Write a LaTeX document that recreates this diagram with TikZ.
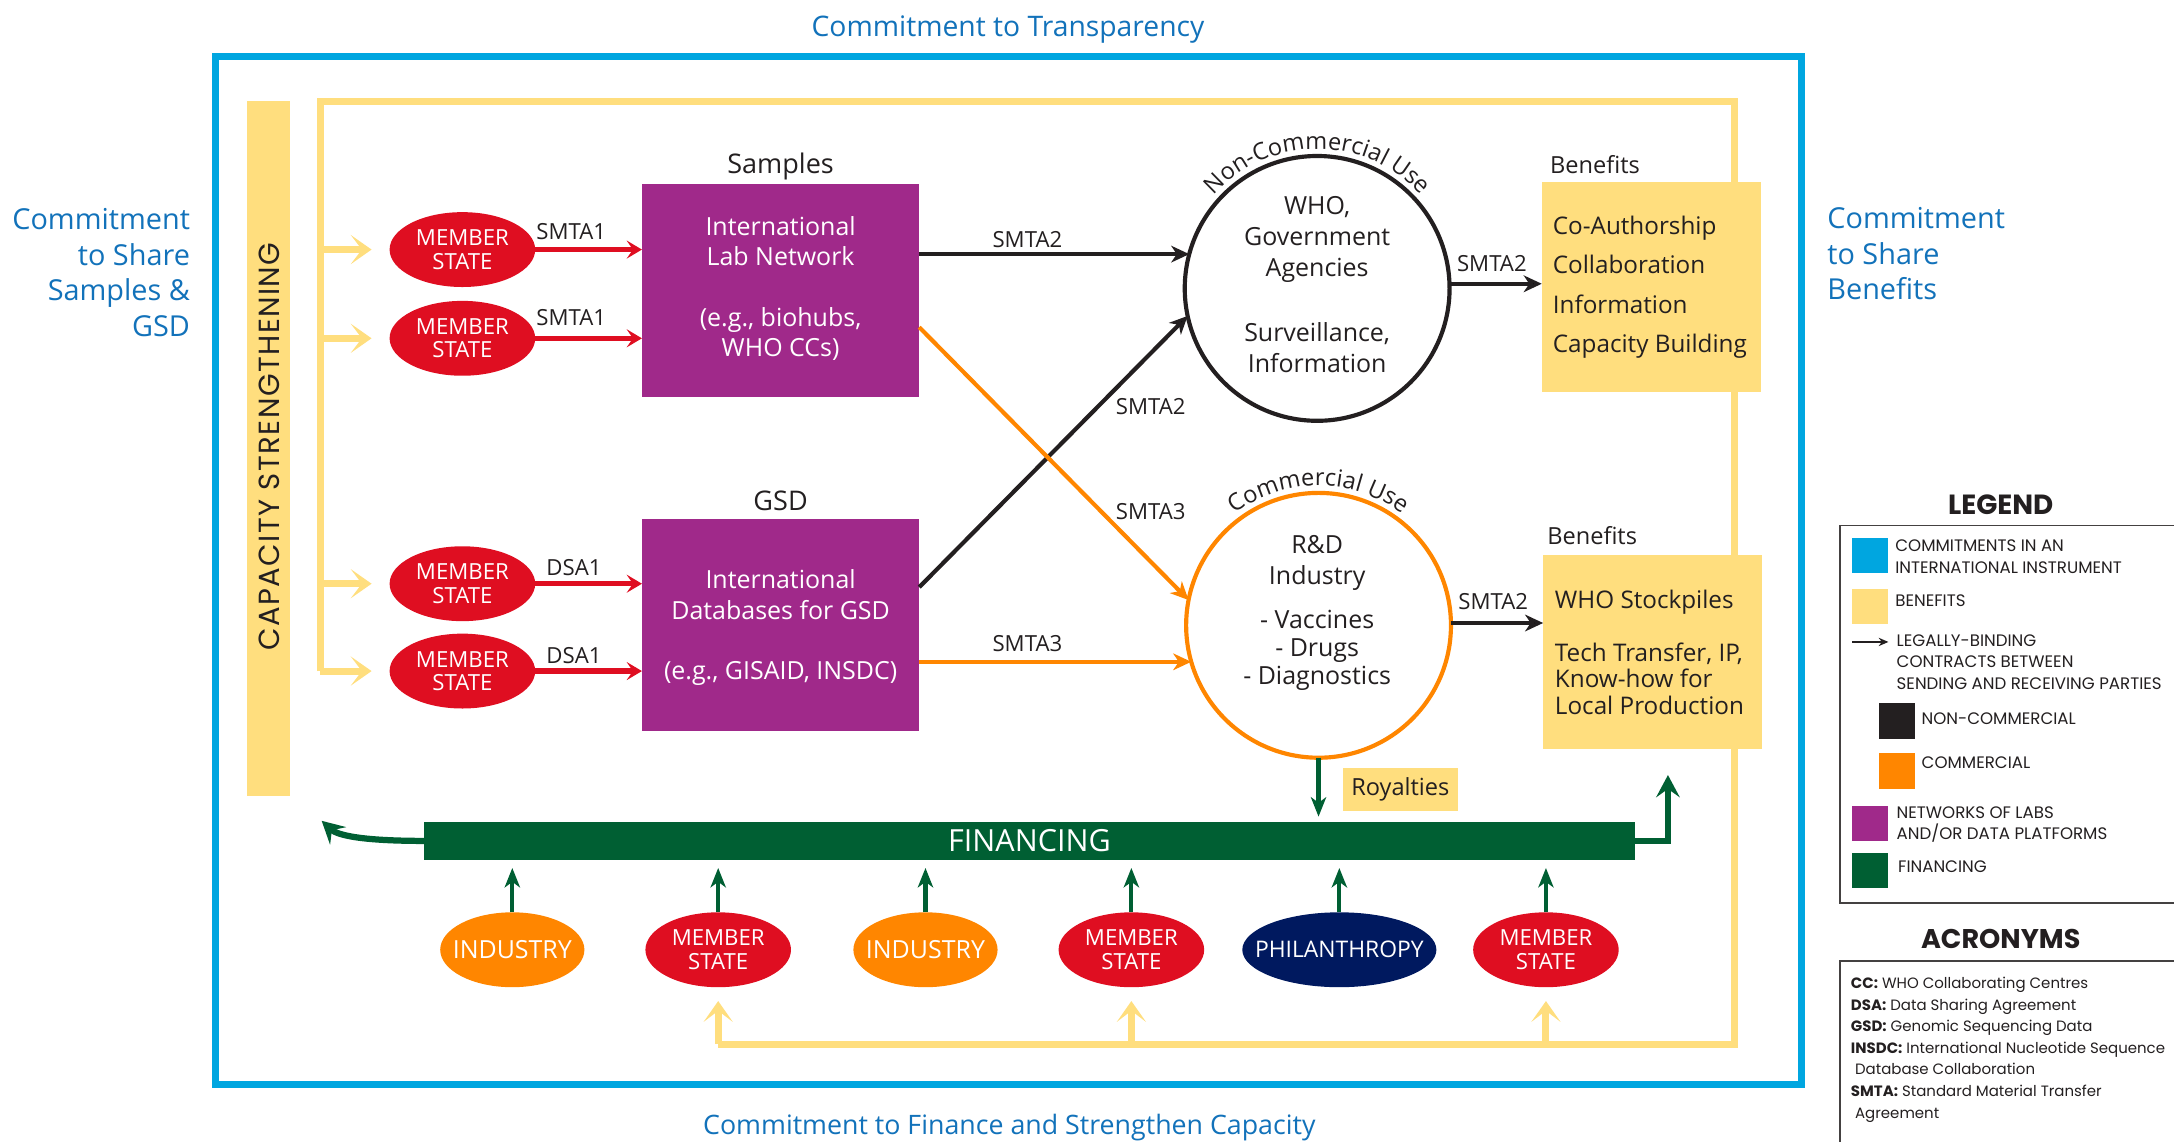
\documentclass[tikz,border=0pt]{standalone}
\usepackage{fontspec}
\setmainfont{Open Sans}
\newfontfamily\geofont{Poppins}
\newfontfamily\geofontsp[LetterSpace=5]{Poppins}
\usetikzlibrary{arrows.meta,decorations.text,shapes.geometric}
\definecolor{cyanf}{HTML}{00A6E0}
\definecolor{bluet}{HTML}{1272BA}
\definecolor{yel}{HTML}{FFDE7E}
\definecolor{purp}{HTML}{A0298A}
\definecolor{redm}{HTML}{DF0E21}
\definecolor{orng}{HTML}{FF8600}
\definecolor{grn}{HTML}{005F33}
\definecolor{navy}{HTML}{00195F}
\definecolor{blk}{HTML}{231F20}
\newcommand\myfs[2]{\fontsize{#1}{#2}\selectfont}
\begin{document}
\begin{tikzpicture}[x=1pt,y=-1pt,
 every node/.style={inner sep=0pt,outer sep=0pt},
 btxt/.style={text=bluet,font=\myfs{20.8}{25.6}},
 dtxt/.style={text=blk,font=\myfs{18}{22.5},align=center},
 lbl/.style={text=blk,font=\myfs{16}{16}},
 wtxt/.style={text=white,font=\myfs{18}{22},align=center},
 msl/.style={text=white,font=\myfs{16}{17},align=center},
 ms/.style={ellipse,fill=redm,minimum width=105pt,minimum height=54pt,label={[msl]center:{MEMBER\\STATE}}},
 ind/.style={ellipse,fill=orng,minimum width=104pt,minimum height=54pt,label={[msl,font=\myfs{18}{18}]center:INDUSTRY}},
 pbox/.style={fill=purp,minimum width=200pt,minimum height=153pt},
 yline/.style={draw=yel,line width=5pt},
 yarr/.style={draw=yel,line width=5pt,-{Stealth[length=15pt,width=21pt,inset=8pt]}},
 barr/.style={draw=blk,line width=3pt,-{Stealth[length=13pt,width=12pt,inset=4pt]}},
 oarr/.style={draw=orng,line width=3pt,-{Stealth[length=13pt,width=12pt,inset=4pt]}},
 rarr/.style={draw=redm,line width=4pt,-{Stealth[length=11pt,width=13pt,inset=4.5pt]}},
 garr/.style={draw=grn,line width=3pt,-{Stealth[length=14pt,width=11pt,inset=4pt]}},
 garrw/.style={draw=grn,line width=4.5pt,-{Stealth[length=16pt,width=17pt,inset=6pt]}},
 lgt/.style={text=blk,font=\geofont\myfs{12}{15.4},align=left,anchor=west},
 lgq/.style={minimum width=26pt,minimum height=25.5pt},
 arctxt/.style={decorate,decoration={text along path,text align=center,text color=blk,text={|\myfs{17}{17}|#1}}}
]
\useasboundingbox (0,0) rectangle (1568,823);

% commitments
\node[btxt,font=\myfs{20.4}{20.4}] (tTop) at (727,21) {Commitment to Transparency};
\node[btxt,font=\myfs{19.3}{19.3}] (tBot) at (728,813) {Commitment to Finance and Strengthen Capacity};
\node[btxt,align=right,anchor=east] (tLeft) at (137,196.5) {Commitment\\to Share\\Samples \&\\GSD};
\node[btxt,align=left,anchor=west] (tRight) at (1318,183) {Commitment\\to Share\\Benefits};
\draw[cyanf,line width=5pt] (155.5,41) rectangle (1299,782);

% capacity strengthening
\node[fill=yel,minimum width=31pt,minimum height=501pt] (cap) at (193.3,323.5) {};
\node[rotate=90,text=blk,font=\geofontsp\myfs{21}{21}] (capt) at (194,322) {CAPACITY STRENGTHENING};

% yellow benefit loop
\coordinate (ybl) at (231,484);
\coordinate (ytl) at (231,73);
\coordinate (ytr) at (1251,73);
\coordinate (ybr) at (1251,753);
\coordinate (ybb) at (518,753);
\draw[yline] (ybl) -- (ytl) -- (ytr) -- (ybr) -- (ybb);

% member states (left)
\node[ms] (m1) at (333.5,180) {};
\node[ms] (m2) at (333.5,244) {};
\node[ms] (m3) at (333.5,421) {};
\node[ms] (m4) at (333.5,484) {};
\foreach \m in {m1,m2,m3,m4}{
  \draw[yarr] (ytl |- \m.west) -- ([xshift=-13pt]\m.west);
}

% purple boxes
\node[pbox] (lab) at (563,209.5) {};
\node[pbox] (gsd) at (563,451) {};
\node[wtxt] (labt1) at (563,174) {International\\Lab Network};
\node[wtxt] (labt2) at (563,241) {(e.g., biohubs,\\WHO CCs)};
\node[wtxt] (gsdt1) at (563,429) {International\\Databases for GSD};
\node[wtxt] (gsdt2) at (563,486) {(e.g., GISAID, INSDC)};
\node[text=blk,font=\myfs{19.5}{19.5}] (samp) at (563,120) {Samples};
\node[text=blk,font=\myfs{19.5}{19.5}] (gsdl) at (563,361) {GSD};

\draw[rarr] (m1.east) -- (lab.west |- m1.east);
\draw[rarr] (m2.east) -- (lab.west |- m2.east);
\draw[rarr] (m3.east) -- (gsd.west |- m3.east);
\draw[rarr] (m4.east) -- (gsd.west |- m4.east);
\node[lbl] (l1) at (412,167) {SMTA1};
\node[lbl] (l2) at (412,229) {SMTA1};
\node[lbl] (l3) at (414,409) {DSA1};
\node[lbl] (l4) at (414,473) {DSA1};

% circles
\node[circle,draw=blk,line width=3pt,minimum size=191pt] (c1) at (950,208) {};
\node[circle,draw=orng,line width=3pt,minimum size=191pt] (c2) at (951,451) {};
\path[arctxt={Non-Commercial Use}] (c1.center) ++(-165:100.5) arc[start angle=-165,end angle=-15,radius=100.5];
\path[arctxt={Commercial Use}] (c2.center) ++(-165:100.5) arc[start angle=-165,end angle=-15,radius=100.5];
\node[dtxt] (c1t1) at (950,172.5) {WHO,\\Government\\Agencies};
\node[dtxt] (c1t2) at (950,251) {Surveillance,\\Information};
\node[dtxt,font=\myfs{18}{22}] (c2t1) at (950,406) {R\&D\\Industry};
\node[dtxt,font=\myfs{18}{20.5}] (c2t2) at (950,469) {- Vaccines\\- Drugs\\- Diagnostics};

% connectors to circles
\draw[barr] (lab.east |- c1.165) -- (c1.165);
\draw[barr] ([yshift=-49pt]gsd.north east) -- (c1.192);
\draw[oarr] ([yshift=-103pt]lab.north east) -- (c2.169);
\draw[oarr] (gsd.east |- c2.196) -- (c2.196);
\node[lbl] (l5) at (741,173) {SMTA2};
\node[lbl] (l6) at (830,293) {SMTA2};
\node[lbl] (l7) at (830,369) {SMTA3};
\node[lbl] (l8) at (741,464) {SMTA3};

% benefits
\node[fill=yel,minimum width=158pt,minimum height=151pt] (ben1) at (1191,207) {};
\node[fill=yel,minimum width=158pt,minimum height=140pt] (ben2) at (1192,470) {};
\node[text=blk,font=\myfs{17}{17},anchor=west] (bl1) at (1118,119) {Benefits};
\node[text=blk,font=\myfs{17}{17},anchor=west] (bl2) at (1116,386) {Benefits};
\node[text=blk,font=\myfs{17.5}{28.5},align=left,anchor=west] (b1t) at (1120,207) {Co-Authorship\\Collaboration\\Information\\Capacity Building};
\node[text=blk,font=\myfs{17.5}{17.5},anchor=west] (b2t1) at (1121.5,434) {WHO Stockpiles};
\node[text=blk,font=\myfs{17.5}{19.3},align=left,anchor=west] (b2t2) at (1121.5,489.5) {Tech Transfer, IP,\\Know-how for\\Local Production};
\draw[barr] (c1.2) -- (ben1.west |- c1.2);
\draw[barr] (c2.1.5) -- (ben2.west |- c2.1.5);
\node[lbl] (l9) at (1076,190) {SMTA2};
\node[lbl] (l10) at (1077,434) {SMTA2};

% financing
\node[fill=grn,minimum width=873pt,minimum height=27pt,text=white,font=\myfs{22}{22}] (fin) at (742.5,606.5) {FINANCING};
\node[fill=yel,minimum width=83pt,minimum height=31pt,text=blk,font=\myfs{17}{17}] (roy) at (1010,569.5) {Royalties};
\draw[garr] (c2.south) -- ([yshift=4pt]c2.south |- fin.north);
\coordinate (fl) at (232,592);
\coordinate (fr) at (1203,559);
\draw[garrw] (fin.west) .. controls +(-42,0) and +(12,11) .. (fl);
\draw[garrw] (fin.east) -| (fr);

% funders
\node[ind] (f1) at (369.5,685) {};
\node[ms] (f2) at (518,685) {};
\node[ind] (f3) at (667.5,685) {};
\node[ms] (f4) at (816,685) {};
\node[ellipse,fill=navy,minimum width=140pt,minimum height=54pt,label={[msl,font=\myfs{16.5}{16.5}]center:PHILANTHROPY}] (f5) at (966,685) {};
\node[ms] (f6) at (1115,685) {};
\foreach \f in {f1,f2,f3,f4,f5,f6}{
  \draw[garr] (\f.north) -- ([yshift=-6pt]\f.north |- fin.south);
}
\foreach \f in {f2,f4,f6}{
  \draw[yarr] (\f.south |- ybb) -- ([yshift=-10pt]\f.south);
}

% legend
\node[text=blk,font=\geofont\bfseries\myfs{20}{20}] (lgT) at (1443,364) {LEGEND};
\draw[draw=blk!85,line width=1.3pt] (1580,379) -| (1327,651) -- (1580,651);
\node[lgq,fill=cyanf] (q1) at (1349,400.5) {};
\node[lgq,fill=yel] (q2) at (1349,437.5) {};
\coordinate (qa1) at (1336,463);
\coordinate (qa2) at (1362,463);
\draw[blk,line width=1.3pt,-{Stealth[length=7pt,width=6pt]}] (qa1) -- (qa2);
\node[lgq,fill=blk] (q3) at (1368,520) {};
\node[lgq,fill=orng] (q4) at (1368,556) {};
\node[lgq,fill=purp] (q5) at (1349,594) {};
\node[lgq,fill=grn] (q6) at (1349,628) {};
\node[lgt] (g1) at (1367,401.5) {COMMITMENTS IN AN\\INTERNATIONAL INSTRUMENT};
\node[lgt] (g2) at (1367,433) {BENEFITS};
\node[lgt] (g3) at (1368,477.5) {LEGALLY-BINDING\\CONTRACTS BETWEEN\\SENDING AND RECEIVING PARTIES};
\node[lgt] (g4) at (1386,518) {NON-COMMERCIAL};
\node[lgt] (g5) at (1386,550) {COMMERCIAL};
\node[lgt] (g6) at (1368,594.5) {NETWORKS OF LABS\\AND/OR DATA PLATFORMS};
\node[lgt] (g7) at (1369,625) {FINANCING};

% acronyms
\node[text=blk,font=\geofont\bfseries\myfs{19.5}{19.5}] (acT) at (1443,677) {ACRONYMS};
\draw[draw=blk!85,line width=1.3pt] (1580,693) -| (1327,830);
\node[lgt,font=\geofont\myfs{10.8}{15.6}] (acr) at (1335,757) {\textbf{CC:} WHO Collaborating Centres\\\textbf{DSA:} Data Sharing Agreement\\\textbf{GSD:} Genomic Sequencing Data\\\textbf{INSDC:} International Nucleotide Sequence\\\hspace*{3pt}Database Collaboration\\\textbf{SMTA:} Standard Material Transfer\\\hspace*{3pt}Agreement};
\end{tikzpicture}
\end{document}
